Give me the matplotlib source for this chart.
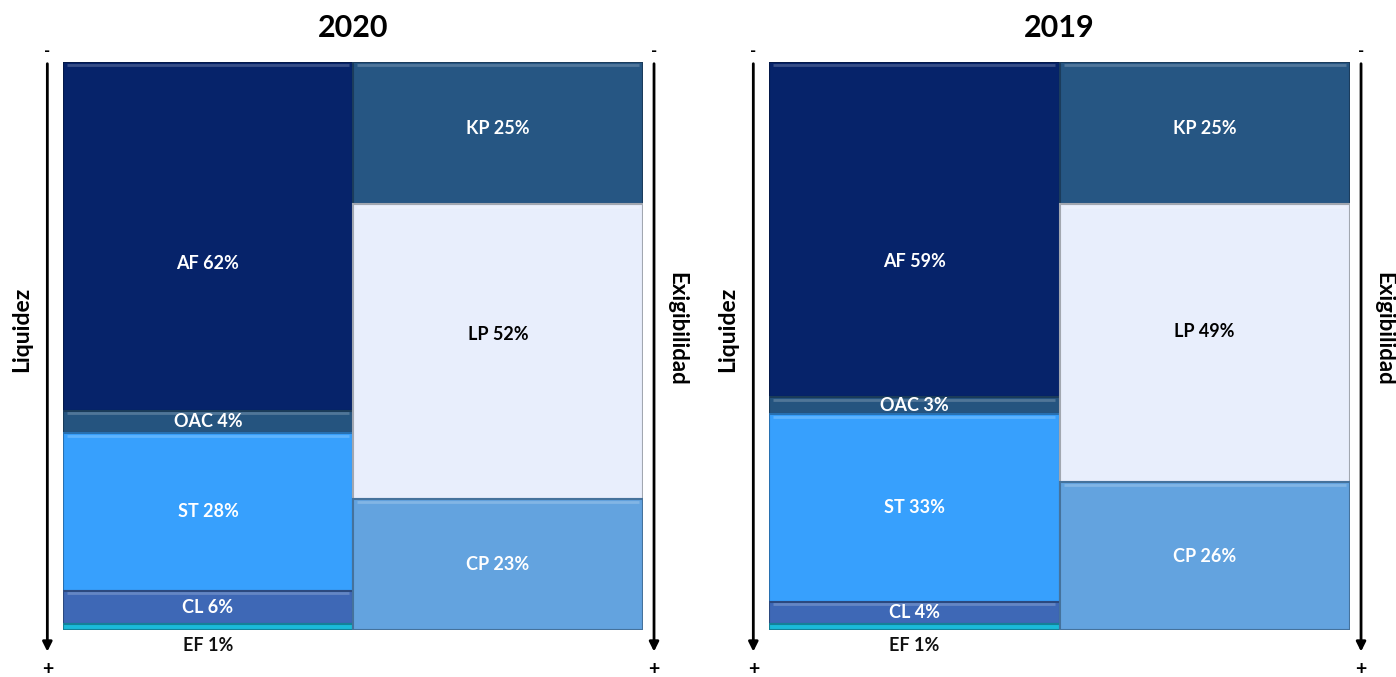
import matplotlib
matplotlib.use("Agg")
import matplotlib.pyplot as plt
import matplotlib.colors as mcolors
import numpy as np

plt.rcParams['font.family'] = ['Lato', 'DejaVu Sans']

# datos de la estructura del balance
years = ['2020', '2019']
activo_labels = ['AF', 'OAC', 'ST', 'CL', 'EF']
activo_2020 = [62, 4, 28, 6, 1]
activo_2019 = [59, 3, 33, 4, 1]
pasivo_labels = ['KP', 'LP', 'CP']
pasivo_2020 = [25, 52, 23]
pasivo_2019 = [25, 49, 26]

activo_colors = ['#06236A', '#25547F', '#37A0FD', '#3E68B6', '#1BBAD9']
pasivo_colors = ['#265683', '#E8EEFC', '#63A3DF']
pasivo_text = ['white', 'black', 'white']

# desplazamiento de etiquetas (como en el original)
ajuste = {'2020': {'AF': 4.8, 'LP': -3.0, 'KP': -0.8},
          '2019': {'AF': 5.6, 'LP': -2.0, 'KP': -0.8}}


def shade(c, f):
    r = np.array(mcolors.to_rgb(c))
    if f < 1:
        return tuple(r * f)
    return tuple(r + (1 - r) * (f - 1))


def columna(ax, x0, labels, vals, colors, txtcols, desp, small_out=None):
    tot = sum(vals)
    alturas = [v / tot * 100 for v in vals]
    y = 0
    for lab, v, h, c, tc in zip(labels, vals, alturas, colors, txtcols):
        ax.bar(x0 + 0.5, h, width=1, bottom=y, color=c,
               edgecolor=shade(c, 0.7), linewidth=1.5, align='center')
        if h > 2:
            ax.hlines(y + 0.45, x0 + 0.015, x0 + 0.985,
                      color=shade(c, 1.25), linewidth=2, alpha=0.8)
        if lab == small_out:
            ax.text(x0 + 0.5, 102.8, f'{lab} {v}%', ha='center', va='center',
                    fontsize=13, fontweight='bold', color='#111111')
        else:
            ax.text(x0 + 0.5, y + h / 2 + desp.get(lab, 0), f'{lab} {v}%',
                    ha='center', va='center', fontsize=13,
                    fontweight='bold', color=tc)
        y += h


fig = plt.figure(figsize=(13.96, 6.77), dpi=100)
W, H = 1396, 677
paneles = [(63, 643, years[0], activo_2020, pasivo_2020),
           (769, 1350, years[1], activo_2019, pasivo_2019)]

for x_izq, x_der, anio, act, pas in paneles:
    ax = fig.add_axes([x_izq / W, (H - 630) / H, (x_der - x_izq) / W, 568 / H])
    ax.set_xlim(0, 2)
    ax.set_ylim(100, 0)
    ax.axis('off')

    columna(ax, 0, activo_labels, act, activo_colors,
            ['white'] * 5, ajuste[anio], small_out='EF')
    columna(ax, 1, pasivo_labels, pas, pasivo_colors, pasivo_text,
            ajuste[anio])

    ax.text(1, -6, anio, ha='center', va='center', fontsize=22,
            fontweight='bold')

    for xa in (-0.054, 2.038):
        ax.annotate('', xy=(xa, 103.8), xytext=(xa, 0.3),
                    annotation_clip=False,
                    arrowprops=dict(arrowstyle='-|>', color='black', lw=2,
                                    mutation_scale=14, shrinkA=0, shrinkB=0))
        ax.text(xa, -1.9, '-', ha='center', va='center', fontsize=12,
                fontweight='bold', clip_on=False)
        ax.text(xa, 107, '+', ha='center', va='center', fontsize=14,
                fontweight='bold', clip_on=False)

    ax.text(-0.142, 47, 'Liquidez', rotation=90, ha='center', va='center',
            fontsize=16.5, fontweight='bold')
    ax.text(2.116, 47, 'Exigibilidad', rotation=270, ha='center',
            va='center', fontsize=16, fontweight='bold')

fig.savefig('out.png', dpi=100)
